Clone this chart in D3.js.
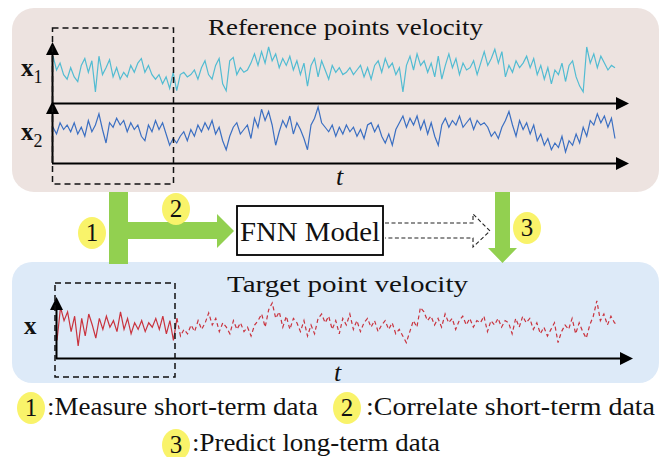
<!DOCTYPE html>
<html>
<head>
<meta charset="utf-8">
<script src="https://cdn.jsdelivr.net/npm/d3@7"></script>
<style>
  html, body { margin: 0; padding: 0; background: #fff; }
  svg { display: block; }
</style>
</head>
<body>
<svg id="fig" width="665" height="457"></svg>
<script>
// Reference point x1 velocity samples (normalised units)
const refX1 = [6,0,3,-2,-4,1,-3,-5,2,5,-1,4,-9.5,6,-2,1,4.5,-3,1,-4,
  -1,-3,2,-1,3,5,-1,2,-2,-4,-2,-6,-3,-8,-1,-9,-2,-1,-3,-2,
  0,-4,1,4,-2,-4,2,5,-6,-9,4,5.5,-2,1,-1,0,3,7,2,8,
  3,10,4,7,1,5,2,6,0,4,-2,3,-7,2,5,-3,4,0,-4,2,
  -1,1,-2,-1,1,-2,0,2,-3,1,-4,2,4,-1,5,1,3,-2,1,-9.5,
  2,6,0,7,2,4,-1,3,-3,6,-4,2,7,1,5,-2,3,0,1,4,
  -2,3,8,2,5,9,3,8,-3,2,-1,4,1,3,6,1,5,-2,2,-4,
  1,-6,0,-2,3,-5,2,4,-3,-7,-9.5,10,3,7,1,6,3,0,2,1];

// Reference point x2 velocity samples
const refX2 = [1,-2,3,0,2,-1,3,-2,1,-3,4,-1,2,7,0,-6,3,1,5,2,
  4,-1,3,0,2,-3,-5,2,-1,4,0,3,-2,-7,-4,-6,-3,-1,-5,0,
  -3,2,-1,3,0,4,-2,1,-5,-9,-3,1,3,-2,0,2,-4,5,1,9,
  4,8,2,-7,-1,4,1,6,-2,3,0,-4,-9,2,5,10,3,1,-1,2,
  -3,1,-2,2,-1,1,-3,0,-4,2,3,-1,2,-3,-6,-2,-7,0,3,6,
  1,5,2,6,0,4,-2,3,-3,-7,2,5,1,4,2,6,1,3,5,0,
  4,2,3,1,-3,-1,-4,1,4,8,2,-3,4,0,3,-2,2,-5,-2,-7,
  -4,-9,-6,-8,-3,-10,-5,-7,-2,-6,1,-3,4,2,7,3,6,1,5,-4];

// Target point velocity: measured for the first samples, predicted afterwards
const target = [-7,8,2,6,-3,4,-9.5,3,-5,5,0,-6,3,-2,4,-1,2,-3,6,-2,
  3,-4,1,-2,2,-3,1,-1,3,-2,4,-4,2,-7,3,-5,-2,-4,0,-3,
  2,-2,1,5.5,0,3,-3,1,-1,-4,2,-2,1,-3,-1,-5,0,2,5,-1,
  7,10,3,6,-1,4,-2,3,1,-3,2,-5,0,-4,3,5,1,4,-2,2,
  -4,3,0,5,-2,2,-3,1,3,-1,2,-3,0,2,-2,1,-4,-2,-5,-8,
  -3,2,-1,8,6,2,4,0,3,-1,5,1,3,-2,2,4,0,3,-1,2,
  1,4,-3,2,0,3,-1,2,1,-4,3,-1,4,1,3,-2,1,-4,-1,-5,
  -2,1,-8,-3,0,-2,3,-4,1,-3,-6,0,4,11,2,5,0,4,1,0];
const measuredCount = 35;

const stepLabels = ["1", "2", "3"];
const legendTexts = [":Measure short-term data", ":Correlate short-term data", ":Predict long-term data"];

const svg = d3.select("#fig");
const GREEN = "#92d050", YELLOW = "#f9f36a";
const SERIF = "'Liberation Serif'";

function label(x, y, size, str) {
  return svg.append("text").attr("x", x).attr("y", y).attr("font-size", size)
    .attr("font-family", SERIF).attr("fill", "#111").text(str);
}
function fitText(sel, w) {
  return sel.attr("textLength", w).attr("lengthAdjust", "spacingAndGlyphs");
}

// ---------- panels ----------
svg.append("rect").attr("x", 12).attr("y", 8).attr("width", 647).attr("height", 184)
  .attr("rx", 22).attr("fill", "#ede3e0");
svg.append("rect").attr("x", 12).attr("y", 262).attr("width", 647).attr("height", 121)
  .attr("rx", 20).attr("fill", "#ddeaf8");

fitText(label(208, 35, 24, "Reference points velocity"), 275);
fitText(label(227, 292, 24, "Target point velocity"), 241);

// ---------- axes helper ----------
function arrowLine(x1, y1, x2, y2) {
  const g = svg.append("g");
  const ang = Math.atan2(y2 - y1, x2 - x1);
  const L = 13, W = 6.5;
  const bx = x2 - L * Math.cos(ang), by = y2 - L * Math.sin(ang);
  g.append("line").attr("x1", x1).attr("y1", y1).attr("x2", bx).attr("y2", by)
    .attr("stroke", "#000").attr("stroke-width", 2);
  const px = -Math.sin(ang) * W, py = Math.cos(ang) * W;
  g.append("path").attr("d", `M${x2},${y2}L${bx + px},${by + py}L${bx - px},${by - py}Z`)
    .attr("fill", "#000");
}

// ---------- reference series ----------
const xTop = d3.scaleLinear().domain([0, refX1.length - 1]).range([53, 615]);
const yX1 = d3.scaleLinear().domain([-10, 10]).range([93, 47]);
const yX2 = d3.scaleLinear().domain([-10, 10]).range([152, 107]);

svg.append("path").datum(refX1)
  .attr("d", d3.line().x((d, i) => xTop(i)).y(d => yX1(d)))
  .attr("fill", "none").attr("stroke", "#52bcd2").attr("stroke-width", 1.2);
svg.append("path").datum(refX2)
  .attr("d", d3.line().x((d, i) => xTop(i)).y(d => yX2(d)))
  .attr("fill", "none").attr("stroke", "#3b6fc2").attr("stroke-width", 1.2);

arrowLine(52.5, 104, 52.5, 42);
arrowLine(52.5, 163, 52.5, 101);
arrowLine(52, 103.5, 629, 103.5);
arrowLine(52, 163.5, 629, 163.5);

// dashed window over the short-term data
svg.append("rect").attr("x", 52.5).attr("y", 28).attr("width", 121).attr("height", 156)
  .attr("fill", "none").attr("stroke", "#111").attr("stroke-width", 1.5).attr("stroke-dasharray", "6,4");

// axis labels
function vecLabel(x, y, name, sub) {
  const t = label(x, y, 25, name).attr("font-weight", "bold");
  if (sub) t.append("tspan").attr("font-size", 18).attr("font-weight", "normal").attr("dy", 7).text(sub);
}
vecLabel(21, 76, "x", "1");
vecLabel(21, 140, "x", "2");
vecLabel(24, 334, "x", null);
label(336, 185, 26, "t").attr("font-style", "italic");
label(334, 381, 26, "t").attr("font-style", "italic");

// ---------- target series ----------
const xBot = d3.scaleLinear().domain([0, target.length - 1]).range([57, 618]);
const yT = d3.scaleLinear().domain([-10, 10]).range([347, 303]);
const tLine = d3.line().x(d => xBot(d.i)).y(d => yT(d.v));
const tPts = target.map((v, i) => ({ i, v }));

svg.append("path").datum(tPts.slice(0, measuredCount))
  .attr("d", tLine).attr("fill", "none").attr("stroke", "#c9333e").attr("stroke-width", 1.2);
svg.append("path").datum(tPts.slice(measuredCount - 1))
  .attr("d", tLine).attr("fill", "none").attr("stroke", "#c9333e").attr("stroke-width", 1.2)
  .attr("stroke-dasharray", "4,3");

arrowLine(56.5, 359, 56.5, 297);
arrowLine(56, 358.5, 633, 358.5);
svg.append("rect").attr("x", 55).attr("y", 283).attr("width", 120).attr("height", 94)
  .attr("fill", "none").attr("stroke", "#111").attr("stroke-width", 1.5).attr("stroke-dasharray", "6,4");

// ---------- workflow arrows ----------
svg.append("path")
  .attr("d", "M109,192H128V222H217V214L234,231L217,248V239H128V264H109Z")
  .attr("fill", GREEN);
svg.append("path")
  .attr("d", "M495,192H510V248H517L502.5,263L488,248H495Z")
  .attr("fill", GREEN);

svg.append("rect").attr("x", 237).attr("y", 206).attr("width", 146).attr("height", 49)
  .attr("fill", "#fff").attr("stroke", "#000").attr("stroke-width", 1.8);
fitText(label(240, 241, 27, "FNN Model"), 140);

svg.append("path")
  .attr("d", "M385,223H473V214L490,231L473,247V238H385")
  .attr("fill", "none").attr("stroke", "#222").attr("stroke-width", 1.1).attr("stroke-dasharray", "4,2.5");

// numbered step markers
function stepMarker(cx, cy, str) {
  svg.append("ellipse").attr("cx", cx).attr("cy", cy).attr("rx", 14).attr("ry", 16).attr("fill", YELLOW);
  label(cx, cy + 8, 25, str).attr("text-anchor", "middle");
}
stepMarker(92, 233, stepLabels[0]);
stepMarker(176, 209, stepLabels[1]);
stepMarker(527, 228, stepLabels[2]);

// ---------- legend ----------
stepMarker(31, 408, stepLabels[0]);
fitText(label(47, 415, 25, legendTexts[0]), 271);
stepMarker(347, 408, stepLabels[1]);
fitText(label(366, 415, 25, legendTexts[1]), 289);
stepMarker(176, 445, stepLabels[2]);
fitText(label(192, 451, 25, legendTexts[2]), 248);
</script>
</body>
</html>
